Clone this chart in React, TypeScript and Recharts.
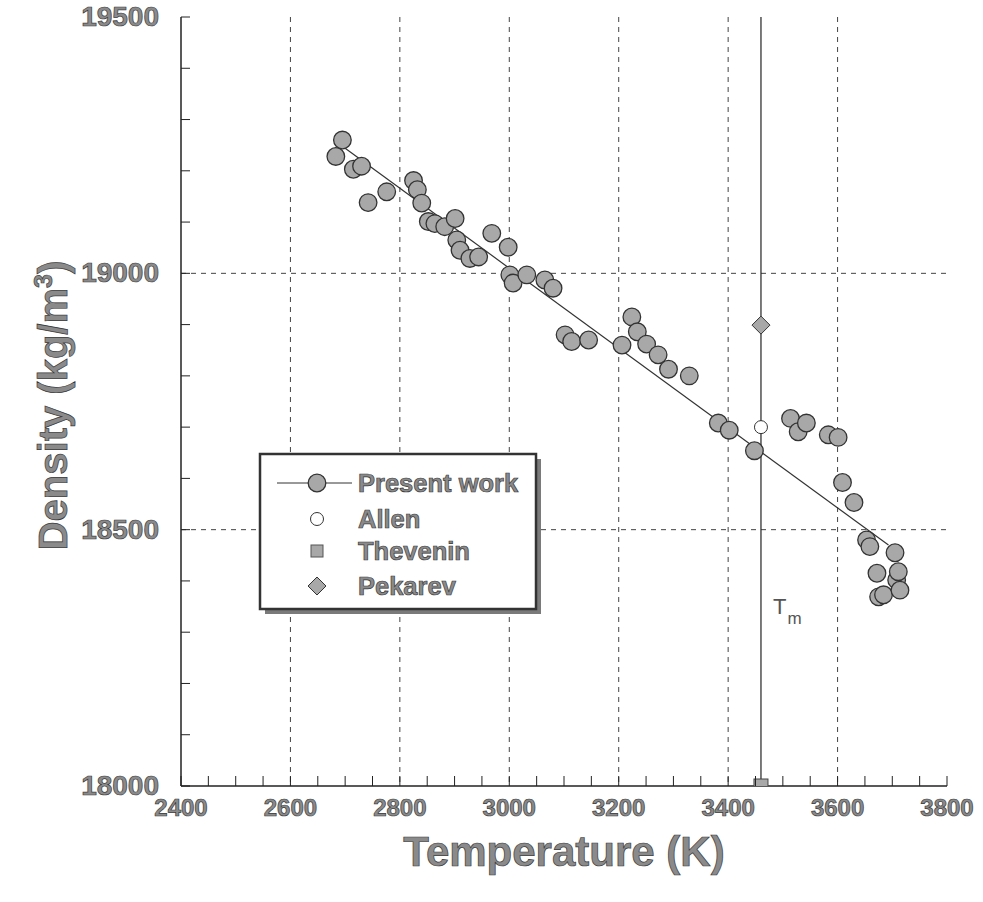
import {
  CartesianGrid,
  Label,
  Legend,
  ReferenceLine,
  Scatter,
  ScatterChart,
  XAxis,
  YAxis,
} from 'recharts'

const FONT = '"Liberation Sans", Arial, sans-serif'
const INK = '#222'
const MARK_FILL = '#a8a8a8'
const TEXT_FILL = '#8a8a8a'
const TEXT_EDGE = '#3a3a3a'

// present work
const presentTemp = [
  2683, 2695, 2715, 2730, 2742, 2776, 2825, 2832, 2840, 2852, 2864, 2882, 2901, 2904, 2910, 2928,
  2944, 2968, 2998, 3001, 3007, 3032, 3065, 3080, 3102, 3114, 3145, 3206, 3224, 3234, 3251, 3272,
  3291, 3329, 3382, 3402, 3448, 3514, 3528, 3543, 3583, 3601, 3609, 3630, 3653, 3659, 3672, 3675,
  3684, 3705, 3708, 3711, 3714,
]
const presentDensity = [
  19228, 19260, 19203, 19209, 19138, 19159, 19181, 19163, 19137, 19101, 19097, 19091, 19107, 19065,
  19045, 19029, 19032, 19078, 19051, 18997, 18981, 18997, 18987, 18971, 18880, 18867, 18870, 18860,
  18915, 18886, 18862, 18841, 18813, 18800, 18708, 18694, 18654, 18717, 18691, 18708, 18685, 18680,
  18592, 18553, 18480, 18467, 18415, 18369, 18373, 18455, 18402, 18418, 18382,
]

// linear fit endpoints
const fitTemp = [2700, 3693]
const fitDensity = [19244, 18470]

const MELT_T = 3460
const allenPt = [{ t: 3460, d: 18700 }]
const theveninPt = [{ t: 3460, d: 18000 }]
const pekarevPt = [{ t: 3460, d: 18899 }]

const tempMajor = [2400, 2600, 2800, 3000, 3200, 3400, 3600, 3800]
const densMajor = [18000, 18500, 19000, 19500]
const tempGrid = [2600, 2800, 3000, 3200, 3400, 3600]
const densGrid = [18500, 19000]

const tempTicks = tempMajor.flatMap((v, i) =>
  i === tempMajor.length - 1 ? [v] : [v, v + 50, v + 100, v + 150],
)
const densTicks = densMajor.flatMap((v, i) =>
  i === densMajor.length - 1 ? [v] : [v, v + 100, v + 200, v + 300, v + 400],
)

const presentData = presentTemp.map((t, i) => ({ t, d: presentDensity[i] }))
const fitData = fitTemp.map((t, i) => ({ t, d: fitDensity[i] }))

const labelStyle = {
  fontFamily: FONT,
  fontWeight: 700,
  fill: TEXT_FILL,
  stroke: TEXT_EDGE,
  strokeWidth: 0.7,
}

function BottomTick({ x, y, payload }: any) {
  const v = payload.value
  const major = v % 200 === 0
  return (
    <g>
      <line x1={x} x2={x} y1={y} y2={y - 10} stroke={INK} />
      {major && (
        <text x={x} y={y + 30} textAnchor="middle" fontSize={24} style={labelStyle}>
          {v}
        </text>
      )}
    </g>
  )
}

function LeftTick({ x, y, payload }: any) {
  const v = payload.value
  const major = v % 500 === 0
  return (
    <g>
      <line x1={x} x2={x + 9} y1={y} y2={y} stroke={INK} />
      {major && (
        <text x={x - 22} y={y + 9} textAnchor="end" fontSize={28} style={labelStyle}>
          {v}
        </text>
      )}
    </g>
  )
}

function TopTick({ x, y }: any) {
  return <line x1={x} x2={x} y1={y} y2={y + 7} stroke={INK} />
}

function RightTick({ x, y }: any) {
  return <line x1={x} x2={x - 9} y1={y} y2={y} stroke={INK} />
}

function BigDot({ cx, cy }: any) {
  return <circle cx={cx} cy={cy} r={8.8} fill={MARK_FILL} stroke="#333" strokeWidth={1.3} />
}
function OpenDot({ cx, cy }: any) {
  return <circle cx={cx} cy={cy} r={6.5} fill="#fff" stroke="#333" strokeWidth={1} />
}
function SquareDot({ cx, cy }: any) {
  return <rect x={cx - 7} y={cy - 7} width={14} height={14} fill={MARK_FILL} stroke="#444" />
}
function DiamondDot({ cx, cy }: any) {
  return (
    <path
      d={`M${cx},${cy - 9}L${cx + 9},${cy}L${cx},${cy + 9}L${cx - 9},${cy}Z`}
      fill={MARK_FILL}
      stroke="#333"
    />
  )
}
const NoDot = () => <g />

function MeltLabel({ viewBox }: any) {
  const { x, y, height } = viewBox
  return (
    <text
      x={x + 12}
      y={y + height * 0.776}
      fontSize={22}
      fontFamily={FONT}
      fill="#555"
      stroke="none"
    >
      T
      <tspan dx={1} dy={10} fontSize={17}>
        m
      </tspan>
    </text>
  )
}

function LegendBox() {
  const rows = ['Present work', 'Allen', 'Thevenin', 'Pekarev']
  const ys = [31, 67, 99, 134]
  const mx = 59
  return (
    <svg width={290} height={170} style={{ display: 'block' }}>
      <rect x={7} y={7} width={276} height={155} fill="#7a7a7a" />
      <rect x={2} y={2} width={276} height={155} fill="#fff" stroke="#333" strokeWidth={2.5} />
      <line x1={19} x2={94} y1={ys[0]} y2={ys[0]} stroke="#333" />
      <BigDot cx={mx} cy={ys[0]} />
      <OpenDot cx={mx} cy={ys[1]} />
      <rect x={mx - 6} y={ys[2] - 6} width={12} height={12} fill={MARK_FILL} stroke="#555" />
      <DiamondDot cx={mx} cy={ys[3]} />
      {rows.map((r, i) => (
        <text key={r} x={100} y={ys[i] + 9} fontSize={25.5} style={labelStyle}>
          {r}
        </text>
      ))}
    </svg>
  )
}

function DensityTitle({ viewBox }: any) {
  const bx = viewBox.x - 14
  const by = viewBox.y + viewBox.height / 2 + 4
  return (
    <text
      x={bx}
      y={by}
      transform={`rotate(-90, ${bx}, ${by})`}
      textAnchor="middle"
      fontSize={40}
      style={labelStyle}
    >
      Density (kg/m
      <tspan dy={-15} fontSize={25}>
        3
      </tspan>
      <tspan dy={15}>)</tspan>
    </text>
  )
}

function TempTitle({ viewBox }: any) {
  return (
    <text
      x={viewBox.x + viewBox.width / 2}
      y={viewBox.y + 80}
      textAnchor="middle"
      fontSize={42}
      style={labelStyle}
    >
      Temperature (K)
    </text>
  )
}

export default function App() {
  return (
    <div style={{ position: 'absolute', left: 0, top: 0, width: 983, height: 902, background: '#fff' }}>
      <ScatterChart width={983} height={902} margin={{ top: 17, right: 36, bottom: 56, left: 81 }}>
        <CartesianGrid
          horizontalValues={densGrid}
          verticalValues={tempGrid}
          stroke="#444"
          strokeDasharray="5 5"
        />
        <XAxis
          type="number"
          dataKey="t"
          domain={[2400, 3800]}
          ticks={tempTicks}
          interval={0}
          height={60}
          tickSize={0}
          tickMargin={0}
          tick={<BottomTick />}
          axisLine={{ stroke: INK, strokeWidth: 1.5 }}
          allowDataOverflow
        >
          <Label content={<TempTitle />} />
        </XAxis>
        <XAxis
          xAxisId="top"
          orientation="top"
          type="number"
          domain={[2400, 3800]}
          ticks={tempTicks}
          interval={0}
          height={0}
          tickSize={0}
          tickMargin={0}
          tick={<TopTick />}
          axisLine={{ stroke: INK, strokeWidth: 1.5 }}
        />
        <YAxis
          type="number"
          dataKey="d"
          domain={[18000, 19500]}
          ticks={densTicks}
          interval={0}
          width={100}
          tickSize={0}
          tickMargin={0}
          tick={<LeftTick />}
          axisLine={{ stroke: INK, strokeWidth: 1.5 }}
          allowDataOverflow
        >
          <Label position="center" content={<DensityTitle />} />
        </YAxis>
        <YAxis
          yAxisId="right"
          orientation="right"
          type="number"
          domain={[18000, 19500]}
          ticks={densTicks}
          interval={0}
          width={0}
          tickSize={0}
          tickMargin={0}
          tick={<RightTick />}
          axisLine={{ stroke: INK, strokeWidth: 1.5 }}
        />
        <ReferenceLine x={MELT_T} stroke={INK} strokeWidth={1.2} label={<MeltLabel />} />
        <Scatter
          name="fit"
          data={fitData}
          line={{ stroke: '#333', strokeWidth: 1.2 }}
          shape={<NoDot />}
          legendType="none"
          isAnimationActive={false}
        />
        <Scatter name="Present work" data={presentData} shape={<BigDot />} isAnimationActive={false} />
        <Scatter name="Allen" data={allenPt} shape={<OpenDot />} isAnimationActive={false} />
        <Scatter name="Thevenin" data={theveninPt} shape={<SquareDot />} isAnimationActive={false} />
        <Scatter name="Pekarev" data={pekarevPt} shape={<DiamondDot />} isAnimationActive={false} />
        <Legend
          layout="horizontal"
          verticalAlign="middle"
          align="center"
          content={<LegendBox />}
          wrapperStyle={{ position: 'absolute', left: 258, top: 452, width: 290, height: 170 }}
        />
      </ScatterChart>
    </div>
  )
}
